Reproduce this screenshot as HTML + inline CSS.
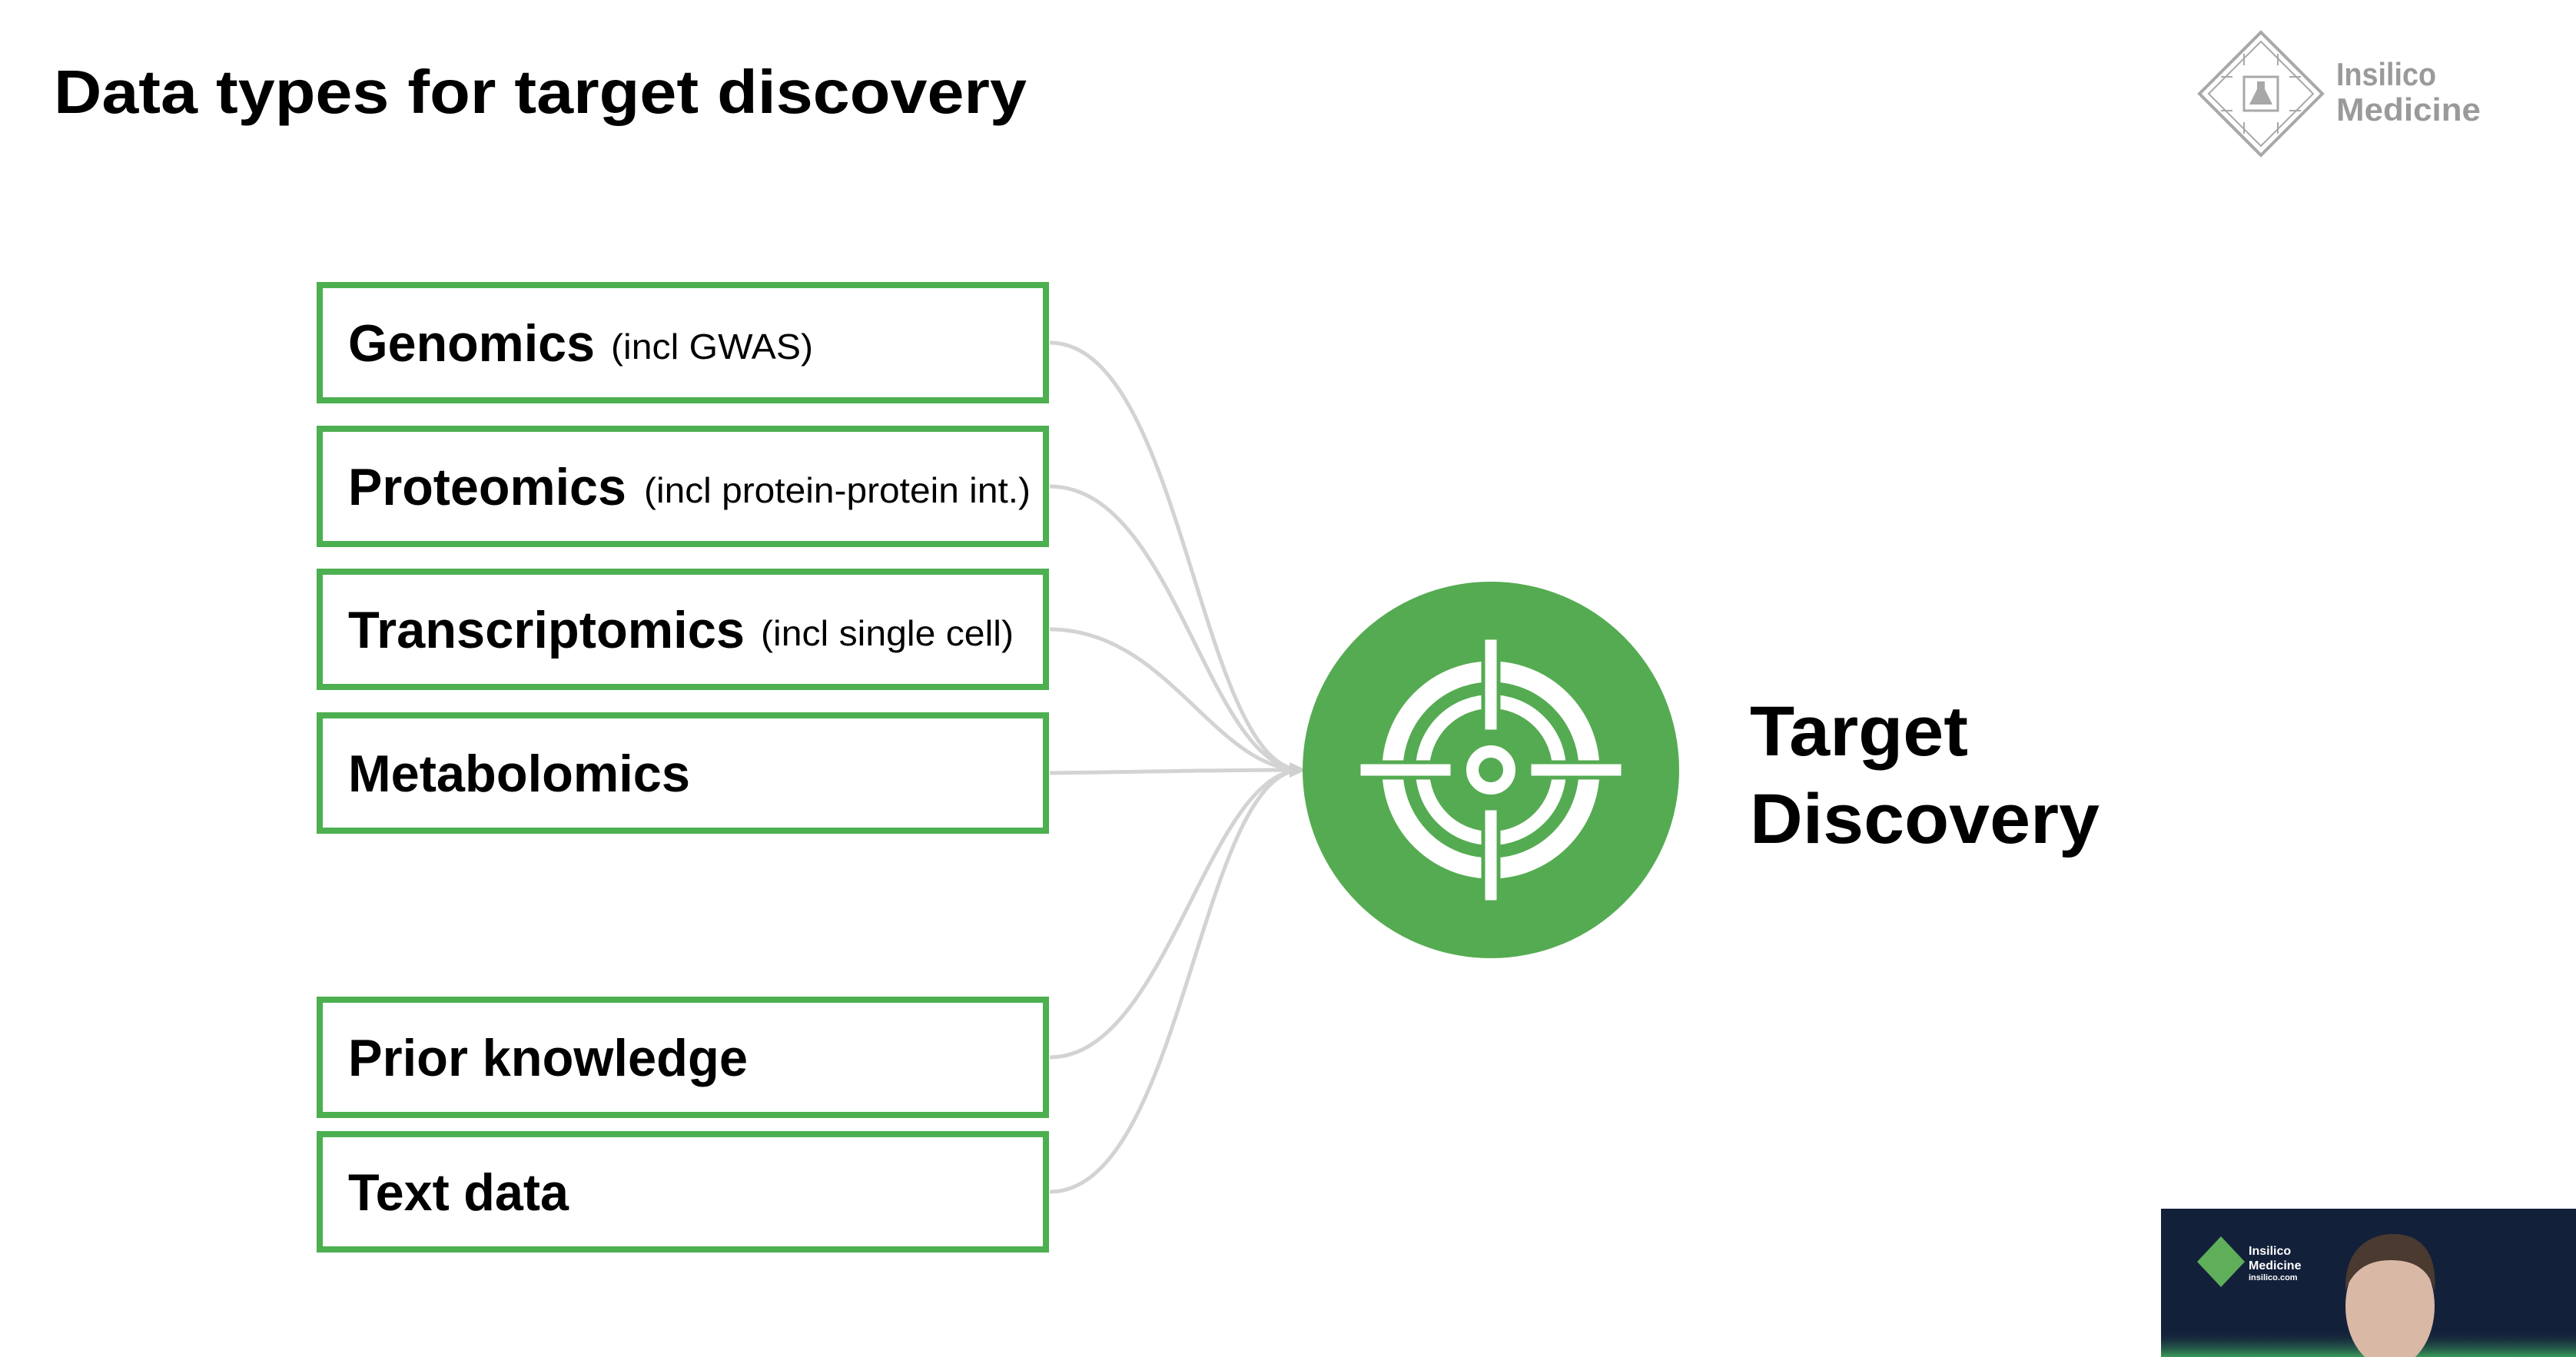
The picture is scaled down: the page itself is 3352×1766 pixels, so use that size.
<!DOCTYPE html>
<html><head><meta charset="utf-8"><style>html,body{margin:0;padding:0;background:#fff}svg{display:block}</style></head>
<body>
<svg width="3352" height="1766" viewBox="0 0 3352 1766" xmlns="http://www.w3.org/2000/svg" font-family="Liberation Sans, Arial, sans-serif">
<rect width="3352" height="1766" fill="#fff"/>
<text x="70" y="147" font-size="80" font-weight="bold" fill="#000" textLength="1266" lengthAdjust="spacingAndGlyphs">Data types for target discovery</text>

<!-- logo -->
<g stroke="#a8a8a8" fill="none" stroke-width="4">
<polygon points="2942,42 3022,122 2942,202 2862,122"/>
<polygon points="2942,54 3010,122 2942,190 2874,122" stroke-width="2"/>
<rect x="2920" y="100" width="44" height="44" stroke-width="3"/>
<path d="M2905 100 h-15 M2905 144 h-15 M2979 100 h15 M2979 144 h15 M2920 85 v-15 M2964 85 v-15 M2920 159 v15 M2964 159 v15" stroke-width="2"/>
</g>
<path d="M2937 106 h10 v10 l10 20 h-30 l10 -20z" fill="#a8a8a8"/>
<text x="3040" y="111" font-size="42" font-weight="bold" fill="#9a9a9a" textLength="130" lengthAdjust="spacingAndGlyphs">Insilico</text>
<text x="3040" y="157" font-size="42" font-weight="bold" fill="#9a9a9a" textLength="188" lengthAdjust="spacingAndGlyphs">Medicine</text>

<!-- connectors -->
<g stroke="#d3d3d3" stroke-width="5" fill="none">
<path d="M1366 446 C1540 446 1560 1002 1694 1002"/>
<path d="M1366 633 C1530 633 1570 1002 1694 1002"/>
<path d="M1366 819 C1520 819 1580 1002 1694 1002"/>
<path d="M1366 1006 C1500 1004 1600 1002 1694 1002"/>
<path d="M1366 1376 C1520 1376 1570 1002 1694 1002"/>
<path d="M1366 1551 C1540 1551 1560 1002 1694 1002"/>
</g>
<polygon points="1678,992 1700,1002 1678,1012" fill="#cfcfcf"/>

<!-- boxes -->
<g fill="#fff" stroke="#4caf50" stroke-width="8">
<rect x="416" y="371" width="945" height="150"/>
<rect x="416" y="558" width="945" height="150"/>
<rect x="416" y="744" width="945" height="150"/>
<rect x="416" y="931" width="945" height="150"/>
<rect x="416" y="1301" width="945" height="150"/>
<rect x="416" y="1476" width="945" height="150"/>
</g>
<g fill="#000">
<text x="453" y="470" font-size="68" font-weight="bold" textLength="321" lengthAdjust="spacingAndGlyphs">Genomics</text>
<text x="795" y="467" font-size="46" textLength="263" lengthAdjust="spacingAndGlyphs">(incl GWAS)</text>
<text x="453" y="657" font-size="68" font-weight="bold" textLength="362" lengthAdjust="spacingAndGlyphs">Proteomics</text>
<text x="838" y="654" font-size="46" textLength="503" lengthAdjust="spacingAndGlyphs">(incl protein-protein int.)</text>
<text x="453" y="843" font-size="68" font-weight="bold" textLength="516" lengthAdjust="spacingAndGlyphs">Transcriptomics</text>
<text x="990" y="840" font-size="46" textLength="329" lengthAdjust="spacingAndGlyphs">(incl single cell)</text>
<text x="453" y="1030" font-size="68" font-weight="bold" textLength="445" lengthAdjust="spacingAndGlyphs">Metabolomics</text>
<text x="453" y="1400" font-size="68" font-weight="bold" textLength="520" lengthAdjust="spacingAndGlyphs">Prior knowledge</text>
<text x="453" y="1575" font-size="68" font-weight="bold" textLength="287" lengthAdjust="spacingAndGlyphs">Text data</text>
</g>

<!-- target -->
<circle cx="1940" cy="1002" r="245" fill="#55ab52"/>
<g fill="none" stroke="#fff">
<circle cx="1940" cy="1002" r="128" stroke-width="27"/>
<circle cx="1940" cy="1002" r="89" stroke-width="18"/>
<circle cx="1940" cy="1002" r="24" stroke-width="16"/>
</g>
<g fill="#fff" stroke="#55ab52" stroke-width="5">
<rect x="1930" y="830" width="20" height="122"/>
<rect x="1930" y="1052" width="20" height="122"/>
<rect x="1768" y="992" width="122" height="20"/>
<rect x="1990" y="992" width="122" height="20"/>
</g>
<text x="2277" y="983" font-size="92" font-weight="bold" fill="#000" textLength="284" lengthAdjust="spacingAndGlyphs">Target</text>
<text x="2277" y="1097" font-size="92" font-weight="bold" fill="#000" textLength="455" lengthAdjust="spacingAndGlyphs">Discovery</text>

<!-- webcam -->
<defs>
<linearGradient id="g" x1="0" y1="0" x2="0" y2="1"><stop offset="0" stop-color="#13203a" stop-opacity="0"/><stop offset="1" stop-color="#3a9a5a"/></linearGradient>
</defs>
<rect x="2812" y="1573" width="540" height="193" fill="#13203a"/>
<rect x="2812" y="1730" width="540" height="36" fill="url(#g)"/>
<polygon points="2890,1609 2921,1642 2890,1675 2859,1642" fill="#5fae5a"/>
<text x="2926" y="1633" font-size="16" font-weight="bold" fill="#fff">Insilico</text>
<text x="2926" y="1652" font-size="16" font-weight="bold" fill="#fff">Medicine</text>
<text x="2926" y="1666" font-size="11" font-weight="bold" fill="#fff">insilico.com</text>
<ellipse cx="3110" cy="1700" rx="58" ry="80" fill="#d9b8a6"/>
<path d="M3052 1680 C3050 1620 3090 1605 3115 1606 C3150 1606 3172 1630 3168 1680 C3160 1650 3140 1640 3110 1640 C3080 1640 3060 1655 3052 1680z" fill="#4a3a30"/>
</svg>
</body></html>
